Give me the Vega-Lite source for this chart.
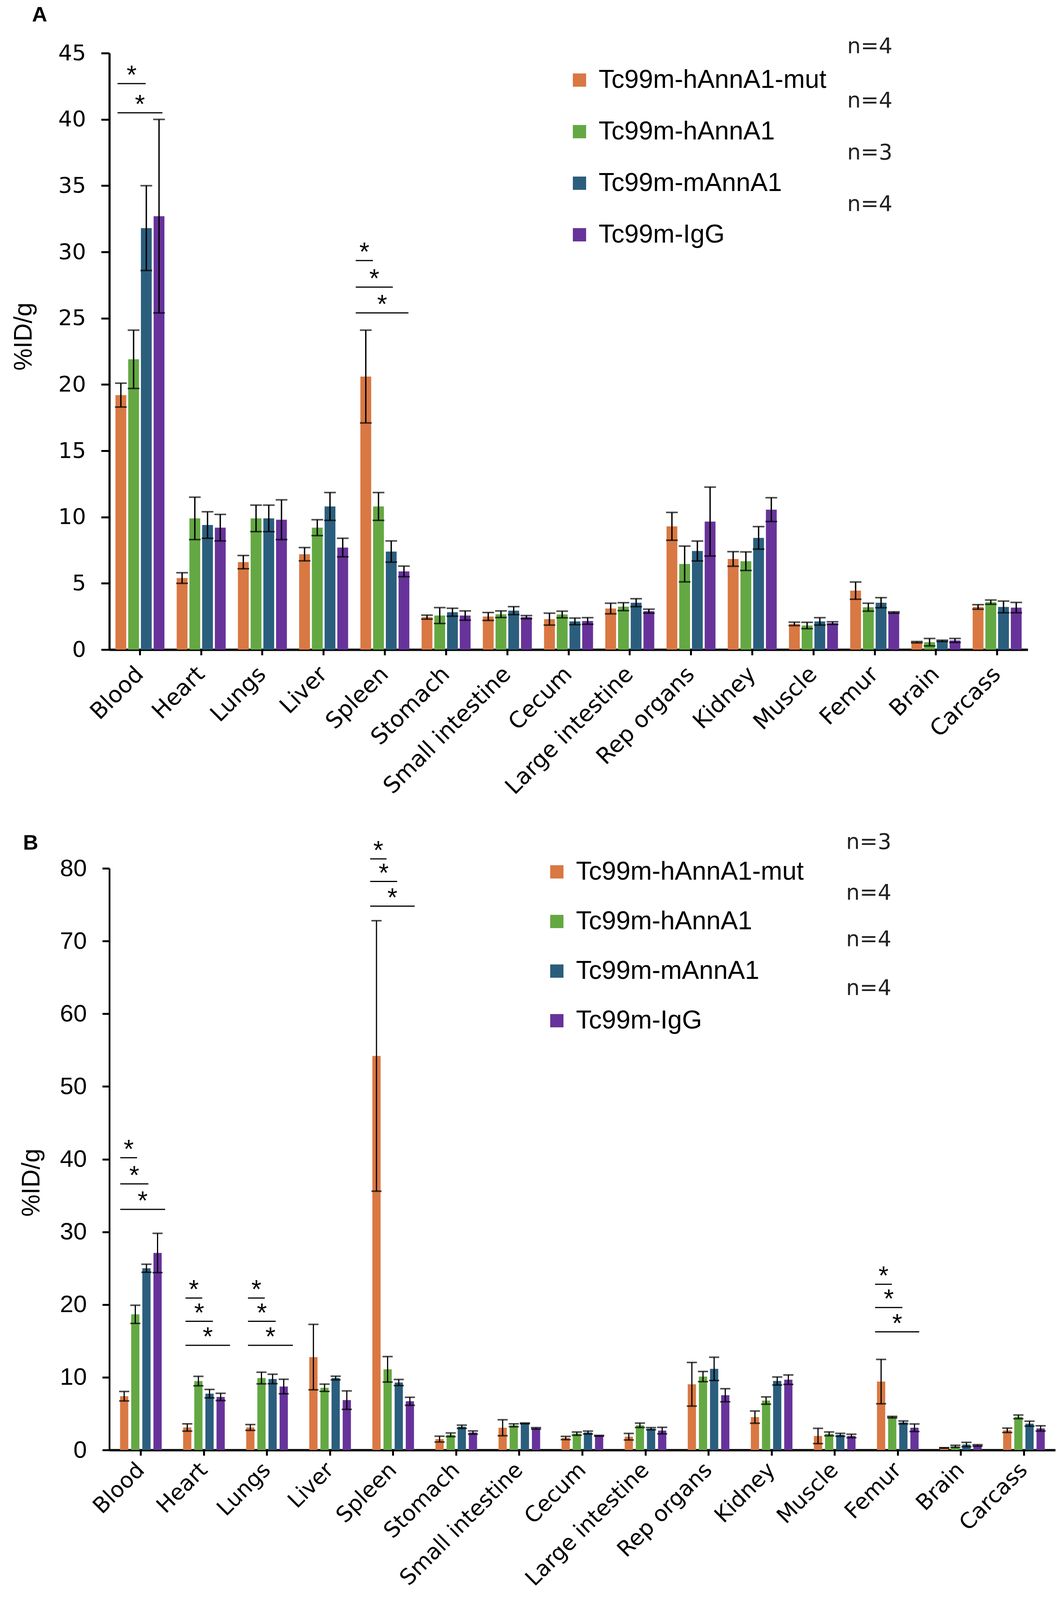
{
"$schema": "https://vega.github.io/schema/vega-lite/v6.json",
"background": "white",
"padding": {"left": 29, "top": 12, "right": 0, "bottom": 0},
"config": {"view": {"stroke": null}, "font": "Liberation Sans"},
"datasets": {
"A": [
{"organ":"Blood","group":"Tc99m-hAnnA1-mut","mean":19.2,"lo":18.3,"hi":20.1},
{"organ":"Blood","group":"Tc99m-hAnnA1","mean":21.9,"lo":19.7,"hi":24.1},
{"organ":"Blood","group":"Tc99m-mAnnA1","mean":31.8,"lo":28.6,"hi":35.0},
{"organ":"Blood","group":"Tc99m-IgG","mean":32.7,"lo":25.4,"hi":40.0},
{"organ":"Heart","group":"Tc99m-hAnnA1-mut","mean":5.4,"lo":5.0,"hi":5.8},
{"organ":"Heart","group":"Tc99m-hAnnA1","mean":9.9,"lo":8.3,"hi":11.5},
{"organ":"Heart","group":"Tc99m-mAnnA1","mean":9.4,"lo":8.4,"hi":10.4},
{"organ":"Heart","group":"Tc99m-IgG","mean":9.2,"lo":8.2,"hi":10.2},
{"organ":"Lungs","group":"Tc99m-hAnnA1-mut","mean":6.6,"lo":6.1,"hi":7.1},
{"organ":"Lungs","group":"Tc99m-hAnnA1","mean":9.9,"lo":8.9,"hi":10.9},
{"organ":"Lungs","group":"Tc99m-mAnnA1","mean":9.9,"lo":8.9,"hi":10.9},
{"organ":"Lungs","group":"Tc99m-IgG","mean":9.8,"lo":8.3,"hi":11.3},
{"organ":"Liver","group":"Tc99m-hAnnA1-mut","mean":7.2,"lo":6.7,"hi":7.7},
{"organ":"Liver","group":"Tc99m-hAnnA1","mean":9.2,"lo":8.6,"hi":9.8},
{"organ":"Liver","group":"Tc99m-mAnnA1","mean":10.8,"lo":9.75,"hi":11.85},
{"organ":"Liver","group":"Tc99m-IgG","mean":7.7,"lo":7.0,"hi":8.4},
{"organ":"Spleen","group":"Tc99m-hAnnA1-mut","mean":20.6,"lo":17.1,"hi":24.1},
{"organ":"Spleen","group":"Tc99m-hAnnA1","mean":10.8,"lo":9.75,"hi":11.85},
{"organ":"Spleen","group":"Tc99m-mAnnA1","mean":7.4,"lo":6.6,"hi":8.2},
{"organ":"Spleen","group":"Tc99m-IgG","mean":5.9,"lo":5.5,"hi":6.3},
{"organ":"Stomach","group":"Tc99m-hAnnA1-mut","mean":2.45,"lo":2.3,"hi":2.6},
{"organ":"Stomach","group":"Tc99m-hAnnA1","mean":2.57,"lo":1.97,"hi":3.17},
{"organ":"Stomach","group":"Tc99m-mAnnA1","mean":2.82,"lo":2.52,"hi":3.12},
{"organ":"Stomach","group":"Tc99m-IgG","mean":2.57,"lo":2.22,"hi":2.92},
{"organ":"Small intestine","group":"Tc99m-hAnnA1-mut","mean":2.5,"lo":2.2,"hi":2.8},
{"organ":"Small intestine","group":"Tc99m-hAnnA1","mean":2.67,"lo":2.42,"hi":2.92},
{"organ":"Small intestine","group":"Tc99m-mAnnA1","mean":2.94,"lo":2.64,"hi":3.24},
{"organ":"Small intestine","group":"Tc99m-IgG","mean":2.45,"lo":2.33,"hi":2.57},
{"organ":"Cecum","group":"Tc99m-hAnnA1-mut","mean":2.3,"lo":1.85,"hi":2.75},
{"organ":"Cecum","group":"Tc99m-hAnnA1","mean":2.65,"lo":2.4,"hi":2.9},
{"organ":"Cecum","group":"Tc99m-mAnnA1","mean":2.13,"lo":1.88,"hi":2.38},
{"organ":"Cecum","group":"Tc99m-IgG","mean":2.16,"lo":1.91,"hi":2.41},
{"organ":"Large intestine","group":"Tc99m-hAnnA1-mut","mean":3.1,"lo":2.7,"hi":3.5},
{"organ":"Large intestine","group":"Tc99m-hAnnA1","mean":3.24,"lo":2.94,"hi":3.54},
{"organ":"Large intestine","group":"Tc99m-mAnnA1","mean":3.54,"lo":3.24,"hi":3.84},
{"organ":"Large intestine","group":"Tc99m-IgG","mean":2.9,"lo":2.75,"hi":3.05},
{"organ":"Rep organs","group":"Tc99m-hAnnA1-mut","mean":9.3,"lo":8.25,"hi":10.35},
{"organ":"Rep organs","group":"Tc99m-hAnnA1","mean":6.46,"lo":5.11,"hi":7.81},
{"organ":"Rep organs","group":"Tc99m-mAnnA1","mean":7.44,"lo":6.69,"hi":8.19},
{"organ":"Rep organs","group":"Tc99m-IgG","mean":9.66,"lo":7.06,"hi":12.26},
{"organ":"Kidney","group":"Tc99m-hAnnA1-mut","mean":6.84,"lo":6.29,"hi":7.39},
{"organ":"Kidney","group":"Tc99m-hAnnA1","mean":6.67,"lo":5.97,"hi":7.37},
{"organ":"Kidney","group":"Tc99m-mAnnA1","mean":8.43,"lo":7.58,"hi":9.28},
{"organ":"Kidney","group":"Tc99m-IgG","mean":10.56,"lo":9.66,"hi":11.46},
{"organ":"Muscle","group":"Tc99m-hAnnA1-mut","mean":1.94,"lo":1.81,"hi":2.07},
{"organ":"Muscle","group":"Tc99m-hAnnA1","mean":1.82,"lo":1.58,"hi":2.06},
{"organ":"Muscle","group":"Tc99m-mAnnA1","mean":2.13,"lo":1.85,"hi":2.41},
{"organ":"Muscle","group":"Tc99m-IgG","mean":2.0,"lo":1.9,"hi":2.1},
{"organ":"Femur","group":"Tc99m-hAnnA1-mut","mean":4.45,"lo":3.8,"hi":5.1},
{"organ":"Femur","group":"Tc99m-hAnnA1","mean":3.2,"lo":2.9,"hi":3.5},
{"organ":"Femur","group":"Tc99m-mAnnA1","mean":3.54,"lo":3.16,"hi":3.92},
{"organ":"Femur","group":"Tc99m-IgG","mean":2.8,"lo":2.75,"hi":2.85},
{"organ":"Brain","group":"Tc99m-hAnnA1-mut","mean":0.56,"lo":0.51,"hi":0.61},
{"organ":"Brain","group":"Tc99m-hAnnA1","mean":0.56,"lo":0.28,"hi":0.84},
{"organ":"Brain","group":"Tc99m-mAnnA1","mean":0.66,"lo":0.61,"hi":0.71},
{"organ":"Brain","group":"Tc99m-IgG","mean":0.69,"lo":0.54,"hi":0.84},
{"organ":"Carcass","group":"Tc99m-hAnnA1-mut","mean":3.22,"lo":3.05,"hi":3.39},
{"organ":"Carcass","group":"Tc99m-hAnnA1","mean":3.58,"lo":3.42,"hi":3.74},
{"organ":"Carcass","group":"Tc99m-mAnnA1","mean":3.22,"lo":2.78,"hi":3.66},
{"organ":"Carcass","group":"Tc99m-IgG","mean":3.17,"lo":2.78,"hi":3.56}
],
"B": [
{"organ":"Blood","group":"Tc99m-hAnnA1-mut","mean":7.4,"lo":6.75,"hi":8.05},
{"organ":"Blood","group":"Tc99m-hAnnA1","mean":18.66,"lo":17.41,"hi":19.91},
{"organ":"Blood","group":"Tc99m-mAnnA1","mean":25.0,"lo":24.45,"hi":25.55},
{"organ":"Blood","group":"Tc99m-IgG","mean":27.1,"lo":24.4,"hi":29.8},
{"organ":"Heart","group":"Tc99m-hAnnA1-mut","mean":3.1,"lo":2.6,"hi":3.6},
{"organ":"Heart","group":"Tc99m-hAnnA1","mean":9.48,"lo":8.83,"hi":10.13},
{"organ":"Heart","group":"Tc99m-mAnnA1","mean":7.75,"lo":7.17,"hi":8.33},
{"organ":"Heart","group":"Tc99m-IgG","mean":7.3,"lo":6.8,"hi":7.8},
{"organ":"Lungs","group":"Tc99m-hAnnA1-mut","mean":3.1,"lo":2.7,"hi":3.5},
{"organ":"Lungs","group":"Tc99m-hAnnA1","mean":9.9,"lo":9.1,"hi":10.7},
{"organ":"Lungs","group":"Tc99m-mAnnA1","mean":9.77,"lo":9.12,"hi":10.42},
{"organ":"Lungs","group":"Tc99m-IgG","mean":8.73,"lo":7.73,"hi":9.73},
{"organ":"Liver","group":"Tc99m-hAnnA1-mut","mean":12.78,"lo":8.28,"hi":17.28},
{"organ":"Liver","group":"Tc99m-hAnnA1","mean":8.56,"lo":8.06,"hi":9.06},
{"organ":"Liver","group":"Tc99m-mAnnA1","mean":9.9,"lo":9.65,"hi":10.15},
{"organ":"Liver","group":"Tc99m-IgG","mean":6.86,"lo":5.59,"hi":8.13},
{"organ":"Spleen","group":"Tc99m-hAnnA1-mut","mean":54.2,"lo":35.6,"hi":72.8},
{"organ":"Spleen","group":"Tc99m-hAnnA1","mean":11.1,"lo":9.35,"hi":12.85},
{"organ":"Spleen","group":"Tc99m-mAnnA1","mean":9.28,"lo":8.86,"hi":9.7},
{"organ":"Spleen","group":"Tc99m-IgG","mean":6.7,"lo":6.15,"hi":7.25},
{"organ":"Stomach","group":"Tc99m-hAnnA1-mut","mean":1.5,"lo":1.1,"hi":1.9},
{"organ":"Stomach","group":"Tc99m-hAnnA1","mean":2.09,"lo":1.84,"hi":2.34},
{"organ":"Stomach","group":"Tc99m-mAnnA1","mean":3.2,"lo":2.98,"hi":3.42},
{"organ":"Stomach","group":"Tc99m-IgG","mean":2.4,"lo":2.18,"hi":2.62},
{"organ":"Small intestine","group":"Tc99m-hAnnA1-mut","mean":3.06,"lo":1.96,"hi":4.16},
{"organ":"Small intestine","group":"Tc99m-hAnnA1","mean":3.4,"lo":3.2,"hi":3.6},
{"organ":"Small intestine","group":"Tc99m-mAnnA1","mean":3.66,"lo":3.61,"hi":3.71},
{"organ":"Small intestine","group":"Tc99m-IgG","mean":2.98,"lo":2.88,"hi":3.08},
{"organ":"Cecum","group":"Tc99m-hAnnA1-mut","mean":1.65,"lo":1.43,"hi":1.87},
{"organ":"Cecum","group":"Tc99m-hAnnA1","mean":2.25,"lo":2.03,"hi":2.47},
{"organ":"Cecum","group":"Tc99m-mAnnA1","mean":2.4,"lo":2.2,"hi":2.6},
{"organ":"Cecum","group":"Tc99m-IgG","mean":1.96,"lo":1.91,"hi":2.01},
{"organ":"Large intestine","group":"Tc99m-hAnnA1-mut","mean":1.83,"lo":1.38,"hi":2.28},
{"organ":"Large intestine","group":"Tc99m-hAnnA1","mean":3.4,"lo":3.1,"hi":3.7},
{"organ":"Large intestine","group":"Tc99m-mAnnA1","mean":2.93,"lo":2.78,"hi":3.08},
{"organ":"Large intestine","group":"Tc99m-IgG","mean":2.67,"lo":2.22,"hi":3.12},
{"organ":"Rep organs","group":"Tc99m-hAnnA1-mut","mean":9.04,"lo":6.04,"hi":12.04},
{"organ":"Rep organs","group":"Tc99m-hAnnA1","mean":10.1,"lo":9.4,"hi":10.8},
{"organ":"Rep organs","group":"Tc99m-mAnnA1","mean":11.16,"lo":9.56,"hi":12.76},
{"organ":"Rep organs","group":"Tc99m-IgG","mean":7.53,"lo":6.63,"hi":8.43},
{"organ":"Kidney","group":"Tc99m-hAnnA1-mut","mean":4.52,"lo":3.68,"hi":5.36},
{"organ":"Kidney","group":"Tc99m-hAnnA1","mean":6.8,"lo":6.3,"hi":7.3},
{"organ":"Kidney","group":"Tc99m-mAnnA1","mean":9.49,"lo":8.94,"hi":10.04},
{"organ":"Kidney","group":"Tc99m-IgG","mean":9.67,"lo":9.02,"hi":10.32},
{"organ":"Muscle","group":"Tc99m-hAnnA1-mut","mean":1.93,"lo":0.88,"hi":2.98},
{"organ":"Muscle","group":"Tc99m-hAnnA1","mean":2.22,"lo":1.96,"hi":2.48},
{"organ":"Muscle","group":"Tc99m-mAnnA1","mean":2.09,"lo":1.89,"hi":2.29},
{"organ":"Muscle","group":"Tc99m-IgG","mean":1.93,"lo":1.69,"hi":2.17},
{"organ":"Femur","group":"Tc99m-hAnnA1-mut","mean":9.41,"lo":6.36,"hi":12.46},
{"organ":"Femur","group":"Tc99m-hAnnA1","mean":4.52,"lo":4.42,"hi":4.62},
{"organ":"Femur","group":"Tc99m-mAnnA1","mean":3.79,"lo":3.59,"hi":3.99},
{"organ":"Femur","group":"Tc99m-IgG","mean":3.06,"lo":2.54,"hi":3.58},
{"organ":"Brain","group":"Tc99m-hAnnA1-mut","mean":0.29,"lo":0.26,"hi":0.32},
{"organ":"Brain","group":"Tc99m-hAnnA1","mean":0.5,"lo":0.35,"hi":0.65},
{"organ":"Brain","group":"Tc99m-mAnnA1","mean":0.75,"lo":0.45,"hi":1.05},
{"organ":"Brain","group":"Tc99m-IgG","mean":0.63,"lo":0.53,"hi":0.73},
{"organ":"Carcass","group":"Tc99m-hAnnA1-mut","mean":2.71,"lo":2.41,"hi":3.01},
{"organ":"Carcass","group":"Tc99m-hAnnA1","mean":4.56,"lo":4.31,"hi":4.81},
{"organ":"Carcass","group":"Tc99m-mAnnA1","mean":3.62,"lo":3.28,"hi":3.96},
{"organ":"Carcass","group":"Tc99m-IgG","mean":2.97,"lo":2.61,"hi":3.33}
],
"sigA": [
{"x1":0.134,"x2":0.593,"xm":0.364,"y":42.7},
{"x1":0.134,"x2":0.867,"xm":0.5,"y":40.5},
{"x1":4.024,"x2":4.305,"xm":4.165,"y":29.35},
{"x1":4.024,"x2":4.63,"xm":4.327,"y":27.35},
{"x1":4.024,"x2":4.885,"xm":4.455,"y":25.4}
],
"sigB": [
{"x1":0.173,"x2":0.44,"xm":0.307,"y":40.2},
{"x1":0.173,"x2":0.619,"xm":0.396,"y":36.6},
{"x1":0.173,"x2":0.885,"xm":0.529,"y":33.1},
{"x1":1.207,"x2":1.473,"xm":1.34,"y":20.9},
{"x1":1.207,"x2":1.641,"xm":1.424,"y":17.7},
{"x1":1.207,"x2":1.913,"xm":1.56,"y":14.4},
{"x1":2.198,"x2":2.464,"xm":2.331,"y":20.9},
{"x1":2.198,"x2":2.637,"xm":2.418,"y":17.7},
{"x1":2.198,"x2":2.91,"xm":2.554,"y":14.4},
{"x1":4.135,"x2":4.395,"xm":4.265,"y":81.3},
{"x1":4.135,"x2":4.563,"xm":4.349,"y":78.2},
{"x1":4.135,"x2":4.841,"xm":4.488,"y":74.8},
{"x1":12.14,"x2":12.406,"xm":12.273,"y":22.8},
{"x1":12.14,"x2":12.573,"xm":12.357,"y":19.6},
{"x1":12.14,"x2":12.84,"xm":12.49,"y":16.25}
],
"nA": [
{"label":"n=4","x":12.05,"y":45.5},
{"label":"n=4","x":12.05,"y":41.4},
{"label":"n=3","x":12.05,"y":37.5},
{"label":"n=4","x":12.05,"y":33.6}
],
"nB": [
{"label":"n=3","x":11.68,"y":83.6},
{"label":"n=4","x":11.68,"y":76.6},
{"label":"n=4","x":11.68,"y":70.2},
{"label":"n=4","x":11.68,"y":63.5}
]
},
"spacing": 560,
"bounds": "flush",
"resolve": {"scale": {"x": "independent", "y": "independent", "color": "independent", "xOffset": "independent"}, "legend": {"color": "independent"}},
"vconcat": [
{
"width": 2352,
"height": 1527,
"title": {"text": "A", "anchor": "start", "frame": "group", "fontSize": 54, "fontWeight": "bold", "font": "Liberation Sans", "color": "black", "dx": -198, "dy": 109, "offset": 92, "baseline": "alphabetic"},
"resolve": {"scale": {"x": "independent"}},
"layer": [
{
"data": {"name": "A"},
"encoding": {
"x": {"field": "organ", "type": "nominal", "sort": null, "title": null,
"scale": {"paddingInner": 0.2, "paddingOuter": 0.1},
"axis": {"labelAngle": -45, "labelAlign": "right", "labelBaseline": "middle", "labelFont": "DejaVu Sans", "labelFontSize": 58, "labelColor": "black", "labelPadding": 40, "labelLimit": 0, "tickSize": 14, "tickWidth": 5, "tickColor": "black", "domainColor": "black", "domainWidth": 6, "grid": false}},
"xOffset": {"field": "group", "type": "nominal", "sort": null, "scale": {"paddingInner": 0.15, "paddingOuter": 0}}
},
"layer": [
{"mark": {"type": "bar"},
"encoding": {
"y": {"field": "mean", "type": "quantitative", "title": "%ID/g", "scale": {"domain": [0, 45], "nice": false},
"axis": {"values": [0, 5, 10, 15, 20, 25, 30, 35, 40, 45], "grid": false, "labelFont": "DejaVu Sans", "labelFontSize": 56, "labelColor": "black", "labelPadding": 39, "tickSize": 21, "tickWidth": 5, "tickColor": "black", "domainColor": "black", "domainWidth": 5.5, "titleFont": "Liberation Sans", "titleFontSize": 64, "titleFontWeight": "normal", "titleColor": "black", "titlePadding": 55, "titleY": 725}},
"color": {"field": "group", "type": "nominal", "sort": null,
"scale": {"domain": ["Tc99m-hAnnA1-mut", "Tc99m-hAnnA1", "Tc99m-mAnnA1", "Tc99m-IgG"], "range": ["#D97843", "#64A843", "#2B5E7D", "#67339A"]},
"legend": {"orient": "none", "legendX": 1171, "legendY": 36, "title": null, "padding": 0, "symbolType": "square", "symbolSize": 1156, "symbolStrokeWidth": 0, "labelFont": "Liberation Sans", "labelFontSize": 66, "labelColor": "black", "labelOffset": 16, "labelLimit": 0, "rowPadding": 66}}
}},
{"mark": {"type": "rule", "color": "black", "strokeWidth": 3.5},
"encoding": {"y": {"field": "lo", "type": "quantitative", "title": "%ID/g", "scale": {"domain": [0, 45], "nice": false}}, "y2": {"field": "hi"}}},
{"mark": {"type": "tick", "color": "black", "thickness": 4, "size": 30},
"encoding": {"y": {"field": "lo", "type": "quantitative", "title": "%ID/g", "scale": {"domain": [0, 45], "nice": false}}}},
{"mark": {"type": "tick", "color": "black", "thickness": 4, "size": 30},
"encoding": {"y": {"field": "hi", "type": "quantitative", "title": "%ID/g", "scale": {"domain": [0, 45], "nice": false}}}}
]
},
{
"data": {"name": "sigA"},
"layer": [
{"mark": {"type": "rule", "color": "black", "strokeWidth": 3},
"encoding": {
"x": {"field": "x1", "type": "quantitative", "scale": {"domain": [0, 15], "nice": false, "zero": false}, "axis": null},
"x2": {"field": "x2"},
"y": {"field": "y", "type": "quantitative", "title": "%ID/g", "scale": {"domain": [0, 45], "nice": false}}}},
{"mark": {"type": "text", "text": "*", "font": "Liberation Sans", "fontSize": 66, "baseline": "alphabetic", "align": "center", "color": "black"},
"encoding": {
"x": {"field": "xm", "type": "quantitative", "scale": {"domain": [0, 15], "nice": false, "zero": false}, "axis": null},
"y": {"field": "y", "type": "quantitative", "title": "%ID/g", "scale": {"domain": [0, 45], "nice": false}}}}
]
},
{
"data": {"name": "nA"},
"mark": {"type": "text", "font": "DejaVu Sans", "fontSize": 55, "baseline": "middle", "align": "left", "color": "#222222"},
"encoding": {
"x": {"field": "x", "type": "quantitative", "scale": {"domain": [0, 15], "nice": false, "zero": false}, "axis": null},
"y": {"field": "y", "type": "quantitative", "title": "%ID/g", "scale": {"domain": [0, 45], "nice": false}},
"text": {"field": "label"}}
}
]
},
{
"width": 2423,
"height": 1489,
"title": {"text": "B", "anchor": "start", "frame": "group", "fontSize": 54, "fontWeight": "bold", "font": "Liberation Sans", "color": "black", "dx": -221, "dy": 149, "offset": 49, "baseline": "alphabetic"},
"resolve": {"scale": {"x": "independent"}},
"layer": [
{
"data": {"name": "B"},
"encoding": {
"x": {"field": "organ", "type": "nominal", "sort": null, "title": null,
"scale": {"paddingInner": 0.34, "paddingOuter": 0.17},
"axis": {"labelAngle": -45, "labelAlign": "right", "labelBaseline": "middle", "labelFont": "DejaVu Sans", "labelFontSize": 56, "labelColor": "black", "labelPadding": 28, "labelLimit": 0, "tickSize": 14, "tickWidth": 5, "tickColor": "black", "domainColor": "black", "domainWidth": 6, "grid": false}},
"xOffset": {"field": "group", "type": "nominal", "sort": null, "scale": {"paddingInner": 0.26, "paddingOuter": 0}}
},
"layer": [
{"mark": {"type": "bar"},
"encoding": {
"y": {"field": "mean", "type": "quantitative", "title": "%ID/g", "scale": {"domain": [0, 80], "nice": false},
"axis": {"values": [0, 10, 20, 30, 40, 50, 60, 70, 80], "grid": false, "labelFont": "Liberation Sans", "labelFontSize": 62, "labelColor": "black", "labelPadding": 40, "tickSize": 18, "tickWidth": 5, "tickColor": "black", "domainColor": "black", "domainWidth": 4.5, "titleFont": "Liberation Sans", "titleFontSize": 64, "titleFontWeight": "normal", "titleColor": "black", "titlePadding": 40, "titleY": 804}},
"color": {"field": "group", "type": "nominal", "sort": null,
"scale": {"domain": ["Tc99m-hAnnA1-mut", "Tc99m-hAnnA1", "Tc99m-mAnnA1", "Tc99m-IgG"], "range": ["#D97843", "#64A843", "#2B5E7D", "#67339A"]},
"legend": {"orient": "none", "legendX": 1113, "legendY": -24, "title": null, "padding": 0, "symbolType": "square", "symbolSize": 1156, "symbolStrokeWidth": 0, "labelFont": "Liberation Sans", "labelFontSize": 66, "labelColor": "black", "labelOffset": 16, "labelLimit": 0, "rowPadding": 61}}
}},
{"mark": {"type": "rule", "color": "black", "strokeWidth": 3},
"encoding": {"y": {"field": "lo", "type": "quantitative", "title": "%ID/g", "scale": {"domain": [0, 80], "nice": false}}, "y2": {"field": "hi"}}},
{"mark": {"type": "tick", "color": "black", "thickness": 4, "size": 26},
"encoding": {"y": {"field": "lo", "type": "quantitative", "title": "%ID/g", "scale": {"domain": [0, 80], "nice": false}}}},
{"mark": {"type": "tick", "color": "black", "thickness": 4, "size": 26},
"encoding": {"y": {"field": "hi", "type": "quantitative", "title": "%ID/g", "scale": {"domain": [0, 80], "nice": false}}}}
]
},
{
"data": {"name": "sigB"},
"layer": [
{"mark": {"type": "rule", "color": "black", "strokeWidth": 3},
"encoding": {
"x": {"field": "x1", "type": "quantitative", "scale": {"domain": [0, 15], "nice": false, "zero": false}, "axis": null},
"x2": {"field": "x2"},
"y": {"field": "y", "type": "quantitative", "title": "%ID/g", "scale": {"domain": [0, 80], "nice": false}}}},
{"mark": {"type": "text", "text": "*", "font": "Liberation Sans", "fontSize": 66, "baseline": "alphabetic", "align": "center", "color": "black"},
"encoding": {
"x": {"field": "xm", "type": "quantitative", "scale": {"domain": [0, 15], "nice": false, "zero": false}, "axis": null},
"y": {"field": "y", "type": "quantitative", "title": "%ID/g", "scale": {"domain": [0, 80], "nice": false}}}}
]
},
{
"data": {"name": "nB"},
"mark": {"type": "text", "font": "DejaVu Sans", "fontSize": 55, "baseline": "middle", "align": "left", "color": "#222222"},
"encoding": {
"x": {"field": "x", "type": "quantitative", "scale": {"domain": [0, 15], "nice": false, "zero": false}, "axis": null},
"y": {"field": "y", "type": "quantitative", "title": "%ID/g", "scale": {"domain": [0, 80], "nice": false}},
"text": {"field": "label"}}
}
]
}
]
}
